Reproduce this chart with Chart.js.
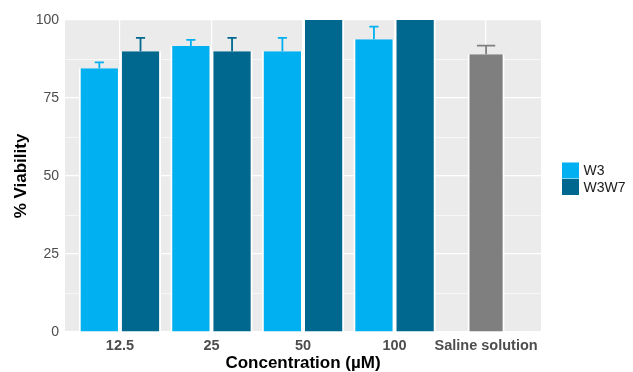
<!DOCTYPE html>
<html>
<head>
<meta charset="utf-8">
<script src="https://cdn.jsdelivr.net/npm/chart.js@4"></script>
<style>
  html, body { margin: 0; padding: 0; background: #ffffff; }
  canvas { display: block; }
</style>
</head>
<body>
<canvas id="chart" width="633" height="372"></canvas>
<script>
// Cell viability by concentration (mean ± SD, upper whisker only)
const categories = ['12.5', '25', '50', '100', 'Saline solution'];
const w3Mean = [84.5, 91.7, 90.0, 93.8];
const w3Sd = [1.9, 1.9, 4.3, 4.1];
const w3w7Mean = [90.0, 90.0, 100, 100];
const w3w7Sd = [4.3, 4.3, null, null];
const salineMean = [89.0];
const salineSd = [2.8];
const yMajorTicks = [0, 25, 50, 75, 100];
const yMinorTicks = [12.5, 37.5, 62.5, 87.5];

const FONT = "'Liberation Sans', Arial, Helvetica, sans-serif";
const AXIS_GREY = '#4d4d4d';

const toPoints = (vals, offset) => vals.map((v, i) => ({ x: i + offset, y: v }));

// grey panel behind the grid
const panelBackground = {
  id: 'panelBackground',
  beforeDraw(chart) {
    const { ctx, chartArea: a } = chart;
    ctx.save();
    ctx.fillStyle = '#ebebeb';
    ctx.fillRect(a.left, a.top, a.right - a.left, a.bottom - a.top);
    ctx.restore();
  }
};

// upper error whiskers with caps, coloured like their bars
const errorBars = {
  id: 'errorBars',
  afterDatasetsDraw(chart) {
    const { ctx, chartArea: a, scales } = chart;
    const xs = scales.x, ys = scales.y;
    const step = xs.getPixelForValue(1) - xs.getPixelForValue(0);
    ctx.save();
    ctx.beginPath();
    ctx.rect(a.left, a.top, a.right - a.left, a.bottom - a.top);
    ctx.clip();
    chart.data.datasets.forEach((ds, di) => {
      const meta = chart.getDatasetMeta(di);
      ds.errors.forEach((err, i) => {
        if (err == null) return;
        const bar = meta.data[i];
        const v = ds.data[i].y;
        const yBar = ys.getPixelForValue(v);
        const yTop = ys.getPixelForValue(v + err);
        const half = ds.capFrac * step / 2;
        ctx.strokeStyle = ds.backgroundColor;
        ctx.lineWidth = 1.8;
        ctx.beginPath();
        ctx.moveTo(bar.x, yBar);
        ctx.lineTo(bar.x, yTop);
        ctx.moveTo(bar.x - half, yTop);
        ctx.lineTo(bar.x + half, yTop);
        ctx.stroke();
      });
    });
    ctx.restore();
  }
};

// key boxes on the right, stacked without gaps
const sideLegend = {
  id: 'sideLegend',
  afterDraw(chart) {
    const { ctx, chartArea: a } = chart;
    const items = chart.data.datasets.filter(d => d.inLegend);
    const key = 16.5;
    const x0 = a.right + 21;
    const mid = (a.top + a.bottom) / 2 + 3;
    let y = mid - key * items.length / 2;
    ctx.save();
    ctx.font = `14px ${FONT}`;
    ctx.textBaseline = 'middle';
    ctx.textAlign = 'left';
    items.forEach(d => {
      ctx.fillStyle = d.backgroundColor;
      ctx.fillRect(x0, y, 17, key - 0.5);
      ctx.fillStyle = '#1a1a1a';
      ctx.fillText(d.label, x0 + 21.5, y + key / 2 + 0.5);
      y += key;
    });
    ctx.restore();
  }
};

const barStyle = {
  borderColor: '#ffffff',
  borderWidth: { left: 2, right: 2, top: 0, bottom: 0 },
  borderSkipped: 'start',
  inflateAmount: 0,
  categoryPercentage: 0.9,
  barPercentage: 1.0
};

new Chart(document.getElementById('chart'), {
  type: 'bar',
  data: {
    datasets: [
      Object.assign({
        label: 'W3',
        data: toPoints(w3Mean, 0),
        errors: w3Sd,
        capFrac: 0.1,
        inLegend: true,
        backgroundColor: '#00b0f0'
      }, barStyle),
      Object.assign({
        label: 'W3W7',
        data: toPoints(w3w7Mean, 0),
        errors: w3w7Sd,
        capFrac: 0.1,
        inLegend: true,
        backgroundColor: '#00688e'
      }, barStyle),
      Object.assign({}, barStyle, {
        label: 'Saline solution',
        data: toPoints(salineMean, categories.length - 1),
        errors: salineSd,
        capFrac: 0.2,
        inLegend: false,
        grouped: false,
        barPercentage: 0.45,
        backgroundColor: '#7f7f7f'
      })
    ]
  },
  options: {
    responsive: false,
    animation: false,
    devicePixelRatio: 1,
    layout: { padding: { top: 20, right: 92, bottom: 0, left: 0 } },
    plugins: {
      legend: { display: false },
      tooltip: { enabled: false }
    },
    scales: {
      x: {
        type: 'linear',
        offset: false,
        min: -0.6,
        max: categories.length - 1 + 0.6,
        afterBuildTicks: s => { s.ticks = categories.map((_, i) => ({ value: i })); },
        afterFit: s => { s.height = 40; },
        border: { display: false },
        grid: { color: '#ffffff', lineWidth: 1.2, drawTicks: false, offset: false },
        ticks: {
          autoSkip: false,
          maxRotation: 0,
          padding: 5,
          color: AXIS_GREY,
          font: { family: FONT, size: 14.5, weight: 'bold' },
          callback: v => categories[v]
        },
        title: {
          display: true,
          text: 'Concentration (µM)',
          color: '#000000',
          padding: 0,
          font: { family: FONT, size: 17, weight: 'bold', lineHeight: 1.0 }
        }
      },
      y: {
        min: 0,
        max: 100,
        afterBuildTicks: s => {
          s.ticks = yMajorTicks.concat(yMinorTicks).sort((p, q) => p - q).map(v => ({ value: v }));
        },
        afterFit: s => { s.width = 65; },
        border: { display: false },
        grid: {
          color: '#ffffff',
          lineWidth: c => (yMajorTicks.includes(c.tick.value) ? 1.2 : 0.6),
          drawTicks: false
        },
        ticks: {
          autoSkip: false,
          padding: 6,
          color: AXIS_GREY,
          font: { family: FONT, size: 14 },
          callback: v => (yMajorTicks.includes(v) ? String(v) : '')
        },
        title: {
          display: true,
          text: '% Viability',
          color: '#000000',
          padding: 11.5,
          font: { family: FONT, size: 17, weight: 'bold' }
        }
      }
    }
  },
  plugins: [panelBackground, errorBars, sideLegend]
});
</script>
</body>
</html>
